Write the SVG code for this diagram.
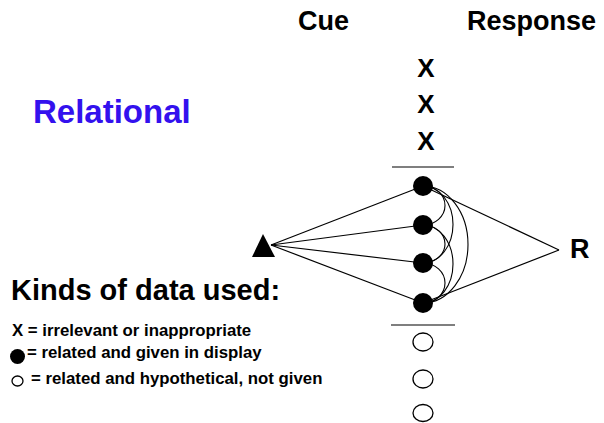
<svg xmlns="http://www.w3.org/2000/svg" width="604" height="423" viewBox="0 0 604 423">
<style>
text{font-family:"Liberation Sans",Arial,Helvetica,sans-serif;font-weight:bold;fill:#000}
.hd{font-size:27px}
.x{font-size:26px;text-anchor:middle}
.lg{font-size:16.8px}
.ln{stroke:#000;stroke-width:1.2;fill:none}
.arc{stroke:#000;stroke-width:1.1;fill:none}
.dot{fill:#000}
.open{fill:#fff;stroke:#000;stroke-width:1.3}
</style>
<rect width="604" height="423" fill="#fff"/>
<g id="titles">
<text class="hd" x="298" y="30">Cue</text>
<text class="hd" x="467" y="30">Response</text>
<text x="33" y="123" style="font-size:33px;fill:#3311ee">Relational</text>
<text x="11" y="300" style="font-size:29px">Kinds of data used:</text>
</g>
<g id="irrelevant">
<text class="x" x="426" y="77">X</text>
<text class="x" x="426" y="113">X</text>
<text class="x" x="426" y="150">X</text>
</g>
<g id="dividers">
<line class="ln" x1="392" y1="167" x2="454" y2="167"/>
<line class="ln" x1="391" y1="325" x2="455" y2="325"/>
</g>
<g id="connectors">
<line class="ln" x1="271" y1="245" x2="423" y2="186"/>
<line class="ln" x1="271" y1="245" x2="423" y2="225"/>
<line class="ln" x1="271" y1="245" x2="423" y2="263"/>
<line class="ln" x1="271" y1="245" x2="423" y2="303"/>
<line class="ln" x1="423" y1="186" x2="559" y2="250"/>
<line class="ln" x1="423" y1="303" x2="559" y2="250"/>
<path class="arc" d="M423 186 A22 19.5 0 0 1 423 225"/>
<path class="arc" d="M423 225 A22 19 0 0 1 423 263"/>
<path class="arc" d="M423 263 A22 20 0 0 1 423 303"/>
<path class="arc" d="M423 186 A30 38.5 0 0 1 423 263"/>
<path class="arc" d="M423 225 A30 39 0 0 1 423 303"/>
<path class="arc" d="M423 186 A45 58.5 0 0 1 423 303"/>
</g>
<g id="cue">
<polygon points="263,234 252,257 275,257" fill="#000"/>
</g>
<g id="given">
<circle class="dot" cx="423" cy="186" r="10"/>
<circle class="dot" cx="423" cy="225" r="10"/>
<circle class="dot" cx="423" cy="263" r="10"/>
<circle class="dot" cx="423" cy="303" r="10"/>
</g>
<g id="hypothetical">
<ellipse class="open" cx="423" cy="342" rx="10" ry="9"/>
<ellipse class="open" cx="423" cy="379" rx="10" ry="9"/>
<ellipse class="open" cx="423" cy="413" rx="10" ry="8.5"/>
</g>
<g id="response">
<text x="570" y="258" style="font-size:27px">R</text>
</g>
<g id="legend">
<text class="lg" x="12" y="336">X = irrelevant or inappropriate</text>
<circle class="dot" cx="17.5" cy="356.5" r="7.5"/>
<text class="lg" x="27" y="358">= related and given in display</text>
<ellipse class="open" cx="17.5" cy="381" rx="5.5" ry="5"/>
<text class="lg" x="31" y="384">= related and hypothetical, not given</text>
</g>
</svg>
